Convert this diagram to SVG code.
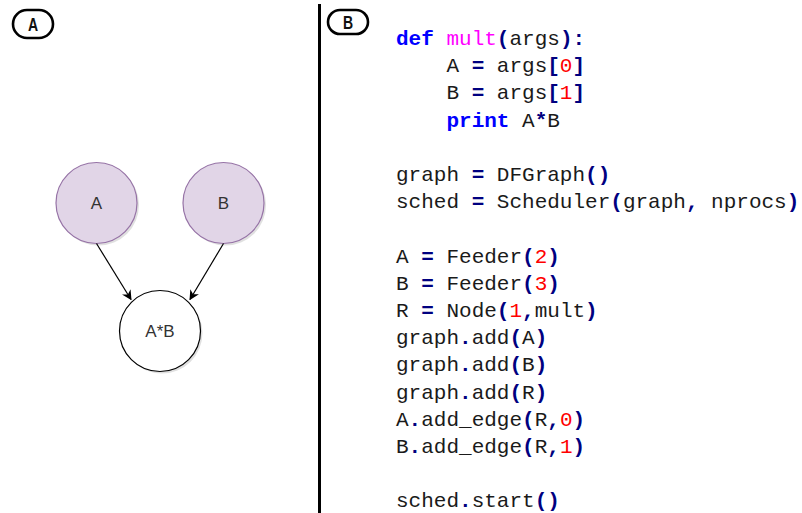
<svg xmlns="http://www.w3.org/2000/svg" width="802" height="513" viewBox="0 0 802 513">
<style>
.code{font-family:"Liberation Mono","Courier New",monospace;font-size:21px;fill:#1a1a1a;white-space:pre}
.o{fill:#000080;font-weight:bold}
.k{fill:#0000ff;font-weight:bold}
.f{fill:#ff00ff}
.n{fill:#ff0000}
.tag{fill:#fff;stroke:#000;stroke-width:2.6}
.tagt{font-family:"Liberation Sans","DejaVu Sans",sans-serif;font-weight:bold;font-size:18px;fill:#111;text-anchor:middle}
.in{fill:#e1d5e7;stroke:#9673a6;stroke-width:1.2}
.out{fill:#fff;stroke:#000;stroke-width:1.2}
.sh{fill:#000;opacity:0.12}
.lbl{font-family:"Liberation Sans",Arial,sans-serif;font-size:17px;fill:#333;text-anchor:middle}
.edge{stroke:#000;stroke-width:1.2;fill:none;marker-end:url(#arr)}
</style>
<defs>
<marker id="arr" viewBox="0 0 10 10" refX="9" refY="5" markerWidth="10" markerHeight="10" markerUnits="userSpaceOnUse" orient="auto">
<path d="M0,0 L10,5 L0,10 L3,5 z" fill="#000"/>
</marker>
</defs>
<rect width="802" height="513" fill="#fff"/>
<!-- panel labels -->
<g id="label-A"><rect class="tag" x="13" y="10" width="40" height="28" rx="14"/><text class="tagt" transform="translate(33 31) scale(0.78 1)">A</text></g>
<g id="label-B"><rect class="tag" x="328" y="10" width="40" height="24" rx="12"/><text class="tagt" transform="translate(348 29) scale(0.78 1)">B</text></g>
<line x1="319.5" y1="4" x2="319.5" y2="513" stroke="#000" stroke-width="3"/>
<!-- graph -->
<g id="node-A"><circle class="sh" cx="98.5" cy="205" r="40.5"/><circle class="in" cx="96.5" cy="203" r="40.5"/><text class="lbl" x="96.5" y="209">A</text></g>
<g id="node-B"><circle class="sh" cx="225.5" cy="205" r="40.5"/><circle class="in" cx="223.5" cy="203" r="40.5"/><text class="lbl" x="223.5" y="209">B</text></g>
<g id="node-AB"><circle class="sh" cx="162" cy="333" r="40.5"/><circle class="out" cx="160" cy="331" r="40.5"/><text class="lbl" x="160" y="337">A*B</text></g>
<g id="connectors">
<line class="edge" x1="96.5" y1="243.5" x2="131" y2="299.5"/>
<line class="edge" x1="223.5" y1="243.5" x2="190" y2="299.5"/>
</g>
<!-- code -->
<g id="code">
<text class="code" x="396" y="45"><tspan class="k">def</tspan> <tspan class="f">mult</tspan><tspan class="o">(</tspan>args<tspan class="o">):</tspan></text>
<text class="code" x="396" y="72.2">    A <tspan class="o">=</tspan> args<tspan class="o">[</tspan><tspan class="n">0</tspan><tspan class="o">]</tspan></text>
<text class="code" x="396" y="99.4">    B <tspan class="o">=</tspan> args<tspan class="o">[</tspan><tspan class="n">1</tspan><tspan class="o">]</tspan></text>
<text class="code" x="396" y="126.6">    <tspan class="k">print</tspan> A<tspan class="o">*</tspan>B</text>
<text class="code" x="396" y="181">graph <tspan class="o">=</tspan> DFGraph<tspan class="o">()</tspan></text>
<text class="code" x="396" y="208.2">sched <tspan class="o">=</tspan> Scheduler<tspan class="o">(</tspan>graph<tspan class="o">,</tspan> nprocs<tspan class="o">)</tspan></text>
<text class="code" x="396" y="262.6">A <tspan class="o">=</tspan> Feeder<tspan class="o">(</tspan><tspan class="n">2</tspan><tspan class="o">)</tspan></text>
<text class="code" x="396" y="289.8">B <tspan class="o">=</tspan> Feeder<tspan class="o">(</tspan><tspan class="n">3</tspan><tspan class="o">)</tspan></text>
<text class="code" x="396" y="317">R <tspan class="o">=</tspan> Node<tspan class="o">(</tspan><tspan class="n">1</tspan><tspan class="o">,</tspan>mult<tspan class="o">)</tspan></text>
<text class="code" x="396" y="344.2">graph<tspan class="o">.</tspan>add<tspan class="o">(</tspan>A<tspan class="o">)</tspan></text>
<text class="code" x="396" y="371.4">graph<tspan class="o">.</tspan>add<tspan class="o">(</tspan>B<tspan class="o">)</tspan></text>
<text class="code" x="396" y="398.6">graph<tspan class="o">.</tspan>add<tspan class="o">(</tspan>R<tspan class="o">)</tspan></text>
<text class="code" x="396" y="425.8">A<tspan class="o">.</tspan>add_edge<tspan class="o">(</tspan>R<tspan class="o">,</tspan><tspan class="n">0</tspan><tspan class="o">)</tspan></text>
<text class="code" x="396" y="453">B<tspan class="o">.</tspan>add_edge<tspan class="o">(</tspan>R<tspan class="o">,</tspan><tspan class="n">1</tspan><tspan class="o">)</tspan></text>
<text class="code" x="396" y="507.4">sched<tspan class="o">.</tspan>start<tspan class="o">()</tspan></text>
</g>
</svg>
